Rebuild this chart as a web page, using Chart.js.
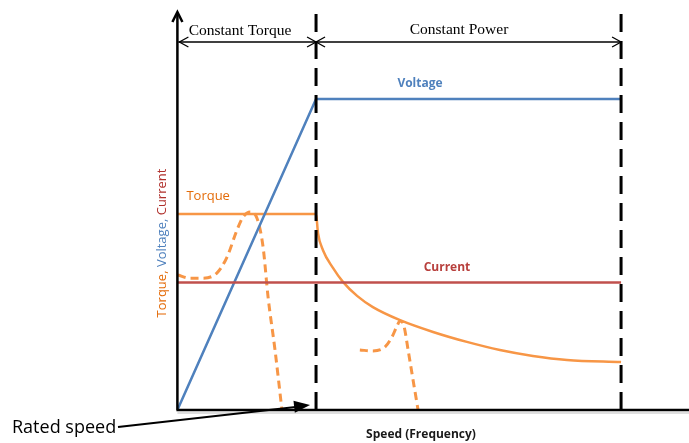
<!DOCTYPE html>
<html>
<head>
<meta charset="utf-8">
<script src="https://cdn.jsdelivr.net/npm/chart.js@4"></script>
<style>
  html, body { margin: 0; padding: 0; background: #fff; }
  #wrap { position: relative; width: 689px; height: 443px; }
</style>
</head>
<body>
<div id="wrap"><canvas id="chart" width="689" height="443"></canvas></div>
<script>
'use strict'

// speed in Hz-like units (rated speed = 50), quantities in % of rated voltage
const ratedSpeed = 50
const maxSpeed = 160
const voltagePts = [[0, 0], [50, 100], [160, 100]]
const currentPts = [[0, 41], [160, 41]]
const torquePts = [
  [0, 63], [50, 63], [50.7, 56.9], [52.5, 51.4], [56.1, 45.7], [59.7, 41.2], [64.8, 36.7],
  [70.5, 33.1], [80.3, 28.9], [92.2, 25.1], [104.4, 21.9], [116.3, 19.3], [128.2, 17.4],
  [140.5, 16.1], [160, 15.4]
]
const torqueDash1 = [
  [0.2, 43.4], [4.5, 42.4], [9.2, 42.4], [14.3, 44.1], [17.9, 49.2], [21.5, 57.9],
  [23.7, 62.1], [26.2, 63.7], [28.7, 61.7], [30.9, 52.4], [32.7, 36.3], [35.2, 19.3], [37.7, 0]
]
const torqueDash2 = [
  [65.8, 19.3], [70.5, 19.0], [74.9, 20.3], [77.4, 23.5], [79.2, 27.0], [80.3, 28.6],
  [81.7, 27.0], [83.2, 19.3], [85.0, 9.6], [86.8, 0]
]
const xMax = 184.5
const yMax = 128

const BLUE = '#4f81bd'
const RED = '#c0504d'
const ORANGE = '#f79646'
const ORANGE_TXT = '#e46c0a'

const pts = arr => arr.map(p => ({ x: p[0], y: p[1] }))

function chevron(ctx, x, y, dir, len, half) {
  // open arrow head pointing in dir (radians)
  ctx.beginPath()
  ctx.moveTo(x - len * Math.cos(dir) - half * Math.sin(dir), y - len * Math.sin(dir) + half * Math.cos(dir))
  ctx.lineTo(x, y)
  ctx.lineTo(x - len * Math.cos(dir) + half * Math.sin(dir), y - len * Math.sin(dir) - half * Math.cos(dir))
  ctx.stroke()
}

const decor = {
  id: 'decor',
  afterDatasetsDraw(chart) {
    const ctx = chart.ctx
    const xs = chart.scales.x, ys = chart.scales.y
    const x0 = xs.getPixelForValue(0), y0 = ys.getPixelForValue(0)
    const yTop = ys.getPixelForValue(yMax)
    const xR = xs.getPixelForValue(ratedSpeed), xE = xs.getPixelForValue(maxSpeed)
    ctx.save()
    ctx.strokeStyle = '#000'
    ctx.fillStyle = '#000'

    // axes
    ctx.strokeStyle = 'rgba(0,0,0,0.25)'
    ctx.lineWidth = 1
    ctx.beginPath()
    ctx.moveTo(x0, y0 + 3); ctx.lineTo(689, y0 + 3)
    ctx.stroke()
    ctx.strokeStyle = '#000'
    ctx.lineWidth = 2.5
    ctx.beginPath()
    ctx.moveTo(x0, y0); ctx.lineTo(x0, yTop + 1)
    ctx.moveTo(x0 - 1, y0); ctx.lineTo(689, y0)
    ctx.stroke()
    chevron(ctx, x0, yTop, -Math.PI / 2, 10, 5)

    // region arrows
    const ya = 42
    ctx.lineWidth = 1.3
    ctx.beginPath()
    ctx.moveTo(x0 + 1, ya); ctx.lineTo(xE, ya)
    ctx.stroke()
    chevron(ctx, x0 + 2, ya, Math.PI, 9, 5)
    chevron(ctx, xR, ya, 0, 9, 5)
    chevron(ctx, xR, ya, Math.PI, 9, 5)
    chevron(ctx, xE, ya, 0, 9, 5)

    ctx.font = '15.5px "Liberation Serif"'
    ctx.textAlign = 'center'
    ctx.textBaseline = 'alphabetic'
    ctx.fillText('Constant Torque', 240, 35)
    ctx.fillText('Constant Power', 459, 34)

    // series labels
    ctx.font = 'bold 12px "Open Sans"'
    ctx.fillStyle = BLUE
    ctx.fillText('Voltage', 420, 87)
    ctx.fillStyle = '#b8403d'
    ctx.fillText('Current', 447, 271)
    ctx.fillStyle = ORANGE_TXT
    ctx.textAlign = 'left'
    ctx.font = '13px "Open Sans"'
    ctx.fillText('Torque', x0 + 9, 200)

    // y title
    ctx.save()
    ctx.translate(166, 243)
    ctx.rotate(-Math.PI / 2)
    ctx.font = '13px "Open Sans"'
    const parts = [['Torque, ', ORANGE_TXT], ['Voltage, ', BLUE], ['Current', '#b0302c']]
    const total = parts.reduce((s, p) => s + ctx.measureText(p[0]).width, 0)
    let cx = -total / 2
    ctx.textAlign = 'left'
    for (const [t, c] of parts) {
      ctx.fillStyle = c
      ctx.fillText(t, cx, 0)
      cx += ctx.measureText(t).width
    }
    ctx.restore()

    // x title
    ctx.fillStyle = '#1a1a1a'
    ctx.font = 'bold 12px "Open Sans"'
    ctx.textAlign = 'center'
    ctx.fillText('Speed (Frequency)', 421, 438)

    // rated speed pointer
    ctx.fillStyle = '#000'
    ctx.font = '18px "Open Sans"'
    ctx.textAlign = 'left'
    ctx.fillText('Rated speed', 12, 433)
    const tx = xR - 6, ty = y0 - 5
    ctx.lineWidth = 2
    ctx.beginPath()
    ctx.moveTo(118, 427); ctx.lineTo(tx - 10, ty + 1.5)
    ctx.stroke()
    const ang = Math.atan2(ty - 427, tx - 118)
    ctx.beginPath()
    ctx.moveTo(tx, ty)
    ctx.lineTo(tx - 16 * Math.cos(ang) - 6 * Math.sin(ang), ty - 16 * Math.sin(ang) + 6 * Math.cos(ang))
    ctx.lineTo(tx - 16 * Math.cos(ang) + 6 * Math.sin(ang), ty - 16 * Math.sin(ang) - 6 * Math.cos(ang))
    ctx.closePath()
    ctx.fill()
    ctx.restore()
  }
}

new Chart(document.getElementById('chart'), {
  type: 'scatter',
  data: {
    datasets: [
      { label: 'Speed limit rated', data: pts([[ratedSpeed, 0], [ratedSpeed, yMax]]), showLine: true, borderColor: '#000', borderWidth: 3, borderDash: [18, 9], pointRadius: 0, clip: false },
      { label: 'Speed limit max', data: pts([[maxSpeed, 0], [maxSpeed, yMax]]), showLine: true, borderColor: '#000', borderWidth: 3, borderDash: [18, 9], pointRadius: 0, clip: false },
      { label: 'Current', data: pts(currentPts), showLine: true, borderColor: RED, borderWidth: 2.5, pointRadius: 0 },
      { label: 'Voltage', data: pts(voltagePts), showLine: true, borderColor: BLUE, borderWidth: 2.5, pointRadius: 0 },
      { label: 'Torque', data: pts(torquePts), showLine: true, borderColor: ORANGE, borderWidth: 2.5, pointRadius: 0, cubicInterpolationMode: 'monotone' },
      { label: 'Torque curve 1', data: pts(torqueDash1), showLine: true, borderColor: ORANGE, borderWidth: 3, borderDash: [8, 5], pointRadius: 0, cubicInterpolationMode: 'monotone', clip: false },
      { label: 'Torque curve 2', data: pts(torqueDash2), showLine: true, borderColor: ORANGE, borderWidth: 3, borderDash: [8, 5], pointRadius: 0, cubicInterpolationMode: 'monotone', clip: false },
    ]
  },
  options: {
    responsive: false,
    animation: false,
    layout: { padding: { left: 177.4, right: 0, top: 12, bottom: 33 } },
    plugins: { legend: { display: false }, tooltip: { enabled: false } },
    scales: {
      x: { type: 'linear', display: false, min: 0, max: xMax },
      y: { type: 'linear', display: false, min: 0, max: yMax }
    }
  },
  plugins: [decor]
})
</script>
</body>
</html>
